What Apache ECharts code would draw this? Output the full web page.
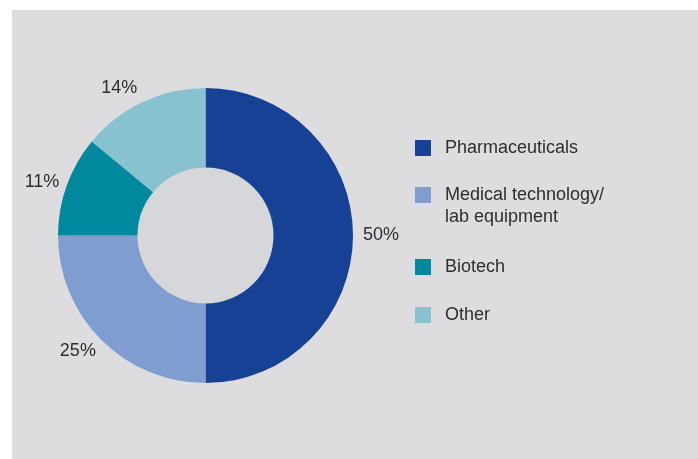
<!DOCTYPE html>
<html>
<head>
<meta charset="utf-8">
<script src="https://cdn.jsdelivr.net/npm/echarts@6/dist/echarts.min.js"></script>
<style>
  html, body { margin: 0; padding: 0; background: #ffffff; }
  #chart { width: 698px; height: 459px; }
</style>
</head>
<body>
<div id="chart"></div>
<script>
// Share of portfolio by sector
const categories = ['Pharmaceuticals', 'Medical technology/\nlab equipment', 'Biotech', 'Other'];
const shares = [50, 25, 11, 14];

// Styling
const sliceColors = ['#164194', '#7f9dcf', '#00889e', '#89c2cf'];
const FONT = '"Liberation Sans", Arial, Helvetica, sans-serif';
const TEXT_COLOR = '#2e2e2e';
// radial line length / horizontal gap for each outside percentage label
const labelPlacement = [
  { len: 5, gap: 5 },
  { len: 16, gap: -6 },
  { len: 11, gap: -3 },
  { len: 15, gap: -1 }
];
// legend rows (top of each entry)
const legendTops = [139, 162, 258, 306];

const chart = echarts.init(document.getElementById('chart'), null, { renderer: 'canvas' });

const pieData = categories.map((name, i) => ({
  name: name,
  value: shares[i],
  itemStyle: { color: sliceColors[i] },
  label: { distanceToLabelLine: labelPlacement[i].gap },
  labelLine: { length: labelPlacement[i].len, length2: 0 }
}));

const legends = categories.map((name, i) => {
  const twoLines = name.indexOf('\n') >= 0;
  return {
    show: true,
    data: [name],
    orient: 'vertical',
    left: 415,
    top: legendTops[i],
    padding: 0,
    itemWidth: 16,
    itemHeight: 16,
    icon: 'rect',
    selectedMode: false,
    // a wrapped name gets an empty first line so its first line sits level with the swatch
    formatter: twoLines ? (n => '\n' + n) : '{name}',
    textStyle: {
      fontFamily: FONT,
      fontSize: 18,
      color: TEXT_COLOR,
      lineHeight: twoLines ? 22 : 16,
      padding: [0, 0, 0, 9]
    }
  };
});

chart.setOption({
  backgroundColor: '#ffffff',
  animation: false,
  graphic: [{
    type: 'rect',
    left: 12,
    top: 10,
    shape: { width: 686, height: 449 },
    style: { fill: '#dddde0' },
    z: -10
  }],
  legend: legends,
  series: [
    {
      // darker disc filling the hole of the ring
      type: 'pie',
      center: [205.5, 235.5],
      radius: [0, 68],
      silent: true,
      label: { show: false },
      labelLine: { show: false },
      data: [{ name: 'hole', value: 1, itemStyle: { color: '#d6d7da' } }],
      z: 1
    },
    {
      type: 'pie',
      center: [205.5, 235.5],
      radius: [68, 147.5],
      startAngle: 90,
      clockwise: true,
      avoidLabelOverlap: false,
      silent: true,
      itemStyle: { borderWidth: 0 },
      label: {
        show: true,
        position: 'outside',
        formatter: '{c}%',
        fontFamily: FONT,
        fontSize: 18,
        color: TEXT_COLOR
      },
      labelLine: { show: false },
      data: pieData,
      z: 2
    }
  ]
});
</script>
</body>
</html>
